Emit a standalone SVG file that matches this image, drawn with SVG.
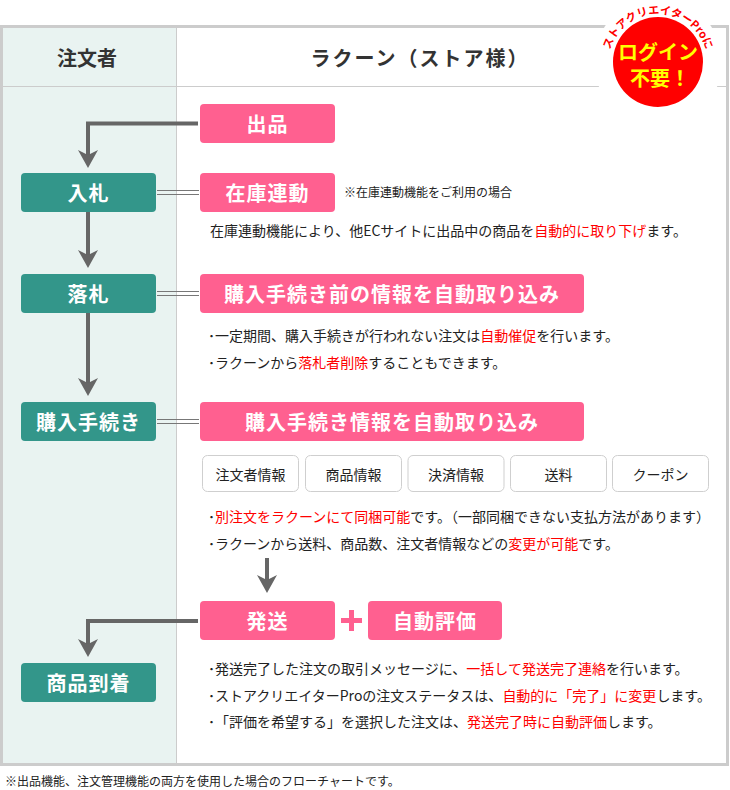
<svg xmlns="http://www.w3.org/2000/svg" width="730" height="790" viewBox="0 0 730 790">
<style>
text{font-family:"Noto Sans CJK JP","Noto Sans",sans-serif;}
.hdr{font-size:20px;font-weight:bold;fill:#333;text-anchor:middle;dominant-baseline:central;}
.teal{fill:#33968a;}
.pink{fill:#ff6090;}
.wt{fill:#fff;font-weight:bold;font-size:20px;text-anchor:middle;dominant-baseline:central;letter-spacing:1px;}
.tag{fill:#fff;stroke:#cfcfcf;stroke-width:1;}
.tagt{fill:#222;font-size:14px;text-anchor:middle;dominant-baseline:central;}
.body{fill:#222;font-size:14px;dominant-baseline:central;}
.red{fill:#ff0000;}
.note{fill:#222;font-size:12px;dominant-baseline:central;}
.conn{fill:none;stroke:#666;stroke-width:4;}
.ah{fill:#666;}
.dbl{stroke:#777;stroke-width:1.2;}
</style>
<defs>
<path id="arc" d="M 608,64 A 50 50 0 0 1 708,64"/>
</defs>
<rect x="0" y="0" width="730" height="790" fill="#fff"/>
<!-- frame -->
<rect x="1.5" y="26.5" width="726" height="738" fill="#fff" stroke="#ccc" stroke-width="3"/>
<rect x="3" y="28" width="173" height="735" fill="#e9f3f1"/>
<line x1="176.5" y1="28" x2="176.5" y2="763" stroke="#ccc" stroke-width="1"/>
<line x1="3" y1="86.5" x2="726" y2="86.5" stroke="#ccc" stroke-width="1"/>
<text class="hdr" x="87" y="57">注文者</text>
<text class="hdr" x="420" y="57" style="letter-spacing:2px">ラクーン（ストア様）</text>

<!-- badge -->
<g id="badge">
<circle cx="658" cy="62" r="64" fill="#fff"/>
<circle cx="658" cy="62" r="45" fill="#ff0000"/>
<text x="658" y="51" style="font-size:20px;font-weight:bold;fill:#ffff00;text-anchor:middle;dominant-baseline:central">ログイン</text>
<text x="660" y="77" style="font-size:20px;font-weight:bold;fill:#ffff00;text-anchor:middle;dominant-baseline:central">不要！</text>
<text style="font-size:11px;font-weight:bold;fill:#ff0000;stroke:#fff;stroke-width:3px;paint-order:stroke;stroke-linejoin:round"><textPath href="#arc" startOffset="50%" text-anchor="middle">ストアクリエイターProに</textPath></text>
</g>

<!-- connectors -->
<g id="connectors">
<polyline class="conn" points="198,123.5 88,123.5 88,156"/>
<polygon class="ah" points="88,168 78,150 88,155 98,150"/>
<line class="conn" x1="88" y1="212" x2="88" y2="256"/>
<polygon class="ah" points="88,268 78,250 88,255 98,250"/>
<line class="conn" x1="88" y1="313" x2="88" y2="384"/>
<polygon class="ah" points="88,396 78,378 88,383 98,378"/>
<polyline class="conn" points="198,621 88,621 88,645"/>
<polygon class="ah" points="88,657 78,639 88,644 98,639"/>
<line class="conn" x1="267" y1="558" x2="267" y2="581"/>
<polygon class="ah" points="267,593 257,575 267,580 277,575"/>
<line class="dbl" x1="157" y1="190.5" x2="199" y2="190.5"/>
<line class="dbl" x1="157" y1="194.5" x2="199" y2="194.5"/>
<line class="dbl" x1="157" y1="291.5" x2="199" y2="291.5"/>
<line class="dbl" x1="157" y1="295.5" x2="199" y2="295.5"/>
<line class="dbl" x1="157" y1="419.5" x2="199" y2="419.5"/>
<line class="dbl" x1="157" y1="423.5" x2="199" y2="423.5"/>
</g>

<!-- left nodes -->
<g id="nyusatsu"><rect class="teal" x="21" y="173" width="135" height="39" rx="4"/><text class="wt" x="88.5" y="192.5">入札</text></g>
<g id="rakusatsu"><rect class="teal" x="21" y="274" width="135" height="39" rx="4"/><text class="wt" x="88.5" y="293.5">落札</text></g>
<g id="konyu"><rect class="teal" x="21" y="402" width="135" height="39" rx="4"/><text class="wt" x="88.5" y="421.5">購入手続き</text></g>
<g id="tochaku"><rect class="teal" x="21" y="663" width="135" height="39" rx="4"/><text class="wt" x="88.5" y="682.5">商品到着</text></g>

<!-- right nodes -->
<g id="shuppin"><rect class="pink" x="200" y="104" width="135" height="39" rx="4"/><text class="wt" x="267.5" y="123.5">出品</text></g>
<g id="zaiko"><rect class="pink" x="200" y="173" width="135" height="39" rx="4"/><text class="wt" x="267.5" y="192.5">在庫連動</text>
<text class="note" x="344" y="191">※在庫連動機能をご利用の場合</text>
<text class="body" x="210" y="230">在庫連動機能により、他ECサイトに出品中の商品を<tspan class="red">自動的に取り下げ</tspan>ます。</text></g>
<g id="torikomi1"><rect class="pink" x="200" y="274" width="384" height="39" rx="4"/><text class="wt" x="392" y="293.5">購入手続き前の情報を自動取り込み</text>
<text class="body" x="208" y="335">･一定期間、購入手続きが行われない注文は<tspan class="red">自動催促</tspan>を行います。</text>
<text class="body" x="208" y="362">･ラクーンから<tspan class="red">落札者削除</tspan>することもできます。</text></g>
<g id="torikomi2"><rect class="pink" x="200" y="402" width="384" height="39" rx="4"/><text class="wt" x="392" y="421.5">購入手続き情報を自動取り込み</text></g>
<g id="tags">
<rect class="tag" x="202.5" y="455.5" width="96" height="36" rx="5"/><text class="tagt" x="250.5" y="473.5">注文者情報</text>
<rect class="tag" x="305.5" y="455.5" width="96" height="36" rx="5"/><text class="tagt" x="353.5" y="473.5">商品情報</text>
<rect class="tag" x="408" y="455.5" width="96" height="36" rx="5"/><text class="tagt" x="456" y="473.5">決済情報</text>
<rect class="tag" x="510.5" y="455.5" width="96" height="36" rx="5"/><text class="tagt" x="558.5" y="473.5">送料</text>
<rect class="tag" x="612.5" y="455.5" width="96" height="36" rx="5"/><text class="tagt" x="660.5" y="473.5">クーポン</text>
</g>
<g id="konyu-text">
<text class="body" x="208" y="516">･<tspan class="red">別注文をラクーンにて同梱可能</tspan>です。（一部同梱できない支払方法があります）</text>
<text class="body" x="208" y="543">･ラクーンから送料、商品数、注文者情報などの<tspan class="red">変更が可能</tspan>です。</text>
</g>
<g id="hassou"><rect class="pink" x="200" y="601" width="135" height="39" rx="4"/><text class="wt" x="267.5" y="620.5">発送</text></g>
<g id="plus"><rect class="pink" x="341" y="618" width="21" height="5"/><rect class="pink" x="349" y="610" width="5" height="21"/></g>
<g id="hyouka"><rect class="pink" x="368" y="601" width="134" height="39" rx="4"/><text class="wt" x="435" y="620.5">自動評価</text></g>
<g id="tochaku-text">
<text class="body" x="208" y="668">･発送完了した注文の取引メッセージに、<tspan class="red">一括して発送完了連絡</tspan>を行います。</text>
<text class="body" x="208" y="695">･ストアクリエイターProの注文ステータスは、<tspan class="red">自動的に「完了」に変更</tspan>します。</text>
<text class="body" x="208" y="721">･「評価を希望する」を選択した注文は、<tspan class="red">発送完了時に自動評価</tspan>します。</text>
</g>
<text class="note" x="5" y="780">※出品機能、注文管理機能の両方を使用した場合のフローチャートです。</text>
</svg>
